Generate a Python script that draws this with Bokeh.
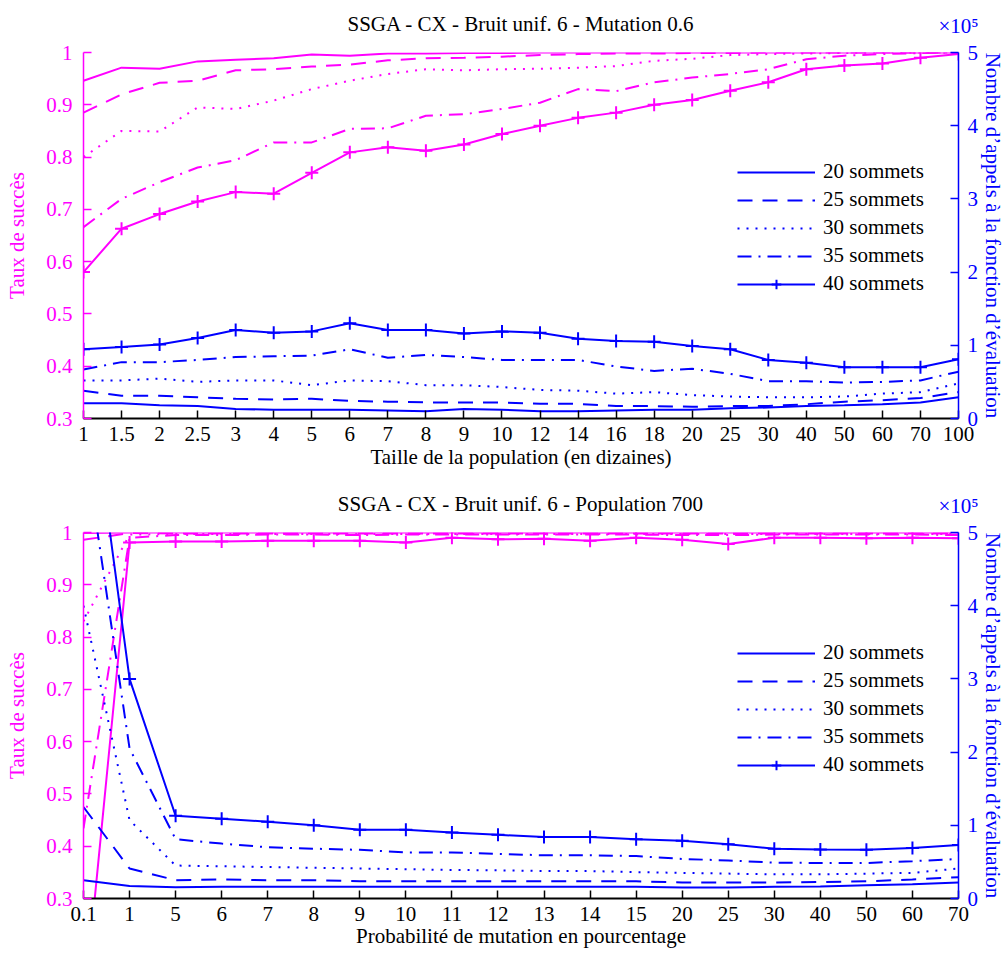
from bokeh.plotting import figure
from bokeh.models import (Range1d, LinearAxis, FixedTicker, Legend, LegendItem,
                          NumeralTickFormatter)
from bokeh.layouts import column
from bokeh.embed import file_html
from bokeh.resources import INLINE

MAG = "#ff00ff"
BLU = "#0000ff"
FONT = "Liberation Serif"

series_names = ["20 sommets", "25 sommets", "30 sommets", "35 sommets", "40 sommets"]
series_dash = ["solid", "15 10", "2 7", "14 7 2 7", "solid"]
calls_multiplier = "×10⁵"

# ---------------- Top panel: population size ----------------
top_title = "SSGA - CX - Bruit unif. 6 - Mutation 0.6"
top_xlabel = "Taille de la population (en dizaines)"
top_x_labels = ["1", "1.5", "2", "2.5", "3", "4", "5", "6", "7", "8", "9", "10",
                "12", "14", "16", "18", "20", "25", "30", "40", "50", "60", "70", "100"]

top_succ_20 = [0.946, 0.971, 0.969, 0.983, 0.986, 0.989, 0.996, 0.994, 0.998, 0.998, 0.999, 0.999,
               1.0, 1.0, 1.0, 1.0, 1.0, 1.0, 1.0, 1.0, 1.0, 1.0, 1.0, 1.0]
top_succ_25 = [0.885, 0.92, 0.942, 0.946, 0.966, 0.968, 0.973, 0.977, 0.985, 0.989, 0.99, 0.992,
               0.995, 0.997, 0.998, 0.998, 0.999, 0.999, 1.0, 1.0, 1.0, 1.0, 1.0, 1.0]
top_succ_30 = [0.80, 0.85, 0.849, 0.895, 0.892, 0.908, 0.93, 0.946, 0.959, 0.968, 0.966, 0.968,
               0.969, 0.971, 0.974, 0.984, 0.988, 0.995, 0.997, 0.998, 0.999, 1.0, 1.0, 1.0]
top_succ_35 = [0.666, 0.72, 0.752, 0.78, 0.794, 0.828, 0.828, 0.854, 0.855, 0.879, 0.882, 0.892,
               0.904, 0.93, 0.926, 0.943, 0.952, 0.959, 0.968, 0.987, 0.994, 0.997, 0.999, 1.0]
top_succ_40 = [0.58, 0.663, 0.691, 0.715, 0.733, 0.73, 0.77, 0.809, 0.819, 0.812, 0.824, 0.844,
               0.86, 0.875, 0.885, 0.90, 0.909, 0.927, 0.943, 0.968, 0.975, 0.979, 0.99, 0.997]

# evaluation calls, in units of 1e5
top_calls_20 = [0.21, 0.21, 0.18, 0.17, 0.13, 0.12, 0.12, 0.12, 0.11, 0.10, 0.13, 0.12,
                0.10, 0.10, 0.11, 0.12, 0.12, 0.14, 0.15, 0.17, 0.18, 0.195, 0.22, 0.29]
top_calls_25 = [0.38, 0.31, 0.31, 0.29, 0.27, 0.26, 0.27, 0.24, 0.23, 0.22, 0.22, 0.22,
                0.20, 0.20, 0.17, 0.17, 0.16, 0.17, 0.17, 0.195, 0.23, 0.25, 0.28, 0.36]
top_calls_30 = [0.52, 0.52, 0.545, 0.50, 0.52, 0.52, 0.455, 0.52, 0.51, 0.455, 0.455, 0.43,
                0.39, 0.38, 0.34, 0.36, 0.32, 0.30, 0.29, 0.29, 0.30, 0.34, 0.36, 0.48]
top_calls_35 = [0.67, 0.77, 0.77, 0.80, 0.84, 0.85, 0.86, 0.945, 0.83, 0.87, 0.84, 0.80,
                0.80, 0.80, 0.71, 0.65, 0.68, 0.61, 0.51, 0.51, 0.49, 0.50, 0.52, 0.64]
top_calls_40 = [0.945, 0.977, 1.01, 1.10, 1.21, 1.17, 1.19, 1.30, 1.21, 1.21, 1.16, 1.19,
                1.17, 1.09, 1.06, 1.05, 0.99, 0.945, 0.80, 0.76, 0.70, 0.70, 0.70, 0.81]

# ---------------- Bottom panel: mutation probability ----------------
bot_title = "SSGA - CX - Bruit unif. 6 - Population 700"
bot_xlabel = "Probabilité de mutation en pourcentage"
bot_x_labels = ["0.1", "1", "5", "6", "7", "8", "9", "10", "11", "12", "13", "14", "15",
                "20", "25", "30", "40", "50", "60", "70"]

bot_succ_20 = [0.999, 1.0, 1.0, 1.0, 1.0, 1.0, 1.0, 1.0, 1.0, 1.0, 1.0, 1.0, 1.0,
               1.0, 1.0, 1.0, 1.0, 1.0, 1.0, 1.0]
bot_succ_25 = [0.986, 0.999, 0.998, 0.998, 0.998, 0.998, 0.998, 0.998, 0.998, 0.998, 0.998, 0.998, 0.998,
               0.998, 0.998, 0.998, 0.998, 0.998, 0.998, 0.998]
bot_succ_30 = [0.83, 0.996, 0.997, 0.997, 0.997, 0.997, 0.997, 0.997, 0.997, 0.997, 0.997, 0.997, 0.997,
               0.997, 0.997, 0.997, 0.997, 0.997, 0.997, 0.997]
bot_succ_35 = [0.434, 0.99, 0.995, 0.995, 0.996, 0.996, 0.995, 0.996, 0.996, 0.996, 0.996, 0.996, 0.996,
               0.995, 0.995, 0.996, 0.996, 0.996, 0.996, 0.995]
bot_succ_40 = [0.08, 0.981, 0.983, 0.983, 0.984, 0.984, 0.984, 0.981, 0.99, 0.987, 0.988, 0.984, 0.99,
               0.986, 0.978, 0.99, 0.99, 0.989, 0.99, 0.989]

bot_calls_20 = [0.25, 0.17, 0.155, 0.16, 0.16, 0.16, 0.16, 0.16, 0.16, 0.16, 0.16, 0.16, 0.16,
                0.15, 0.15, 0.16, 0.165, 0.18, 0.195, 0.22]
bot_calls_25 = [1.25, 0.41, 0.25, 0.26, 0.25, 0.25, 0.235, 0.235, 0.235, 0.235, 0.235, 0.235, 0.235,
                0.22, 0.22, 0.22, 0.225, 0.235, 0.26, 0.29]
bot_calls_30 = [4.0, 1.07, 0.45, 0.44, 0.43, 0.42, 0.41, 0.40, 0.39, 0.385, 0.375, 0.375, 0.36,
                0.35, 0.34, 0.33, 0.33, 0.34, 0.35, 0.41]
bot_calls_35 = [6.3, 2.05, 0.81, 0.75, 0.70, 0.68, 0.665, 0.63, 0.63, 0.61, 0.59, 0.59, 0.58,
                0.54, 0.52, 0.49, 0.485, 0.485, 0.51, 0.54]
bot_calls_40 = [7.7, 3.0, 1.13, 1.09, 1.05, 1.0, 0.94, 0.94, 0.90, 0.87, 0.84, 0.84, 0.81,
                0.79, 0.74, 0.68, 0.67, 0.665, 0.69, 0.73]

succ_ticks = [0.3, 0.4, 0.5, 0.6, 0.7, 0.8, 0.9, 1.0]
calls_ticks = [0, 1, 2, 3, 4, 5]

FS = "21px"


def style_text_axis(ax, color):
    ax.major_label_text_font = FONT
    ax.major_label_text_font_size = FS
    ax.major_label_text_color = color
    ax.axis_label_text_font = FONT
    ax.axis_label_text_font_size = FS
    ax.axis_label_text_font_style = "normal"
    ax.axis_label_text_color = color


def make_panel(title, xlabels, succ, calls, xlabel, height, btop, bbottom, xl_standoff, legend_loc):
    n = len(xlabels)
    xs = list(range(n))
    p = figure(width=1008, height=height, output_backend="svg", toolbar_location=None,
               x_range=Range1d(0, n - 1), y_range=Range1d(0.3, 1.0),
               min_border_left=83, min_border_right=45,
               min_border_top=btop, min_border_bottom=bbottom)
    p.outline_line_color = None
    p.xgrid.visible = False
    p.ygrid.visible = False
    p.background_fill_color = "white"
    p.border_fill_color = "white"
    p.extra_y_ranges = {"right": Range1d(0, 5)}

    # bottom axis
    xa = p.xaxis[0]
    xa.ticker = FixedTicker(ticks=xs)
    xa.major_label_overrides = {i: lab for i, lab in enumerate(xlabels)}
    xa.axis_line_color = "black"
    xa.axis_line_width = 2
    xa.major_tick_line_color = "black"
    xa.major_tick_line_width = 1.5
    xa.major_tick_in = 8
    xa.major_tick_out = 0
    xa.minor_tick_line_color = None
    style_text_axis(xa, "black")
    xa.major_label_standoff = 8
    xa.axis_label = xlabel
    xa.axis_label_standoff = xl_standoff

    # top: title (as axis label) and the x10^5 multiplier above the right axis
    ta = LinearAxis(ticker=FixedTicker(ticks=[n - 1]))
    ta.major_label_overrides = {n - 1: calls_multiplier}
    ta.axis_line_color = None
    ta.major_tick_line_color = None
    ta.minor_tick_line_color = None
    ta.major_tick_in = 0
    ta.major_tick_out = 0
    style_text_axis(ta, "black")
    ta.major_label_text_color = BLU
    ta.major_label_standoff = 15
    ta.axis_label = title
    ta.axis_label_standoff = -25
    p.add_layout(ta, "above")

    # left axis (success rate)
    ya = p.yaxis[0]
    ya.ticker = FixedTicker(ticks=succ_ticks)
    ya.formatter = NumeralTickFormatter(format="0.[0]")
    ya.axis_line_color = MAG
    ya.axis_line_width = 1.5
    ya.major_tick_line_color = MAG
    ya.major_tick_line_width = 1.5
    ya.major_tick_in = 8
    ya.major_tick_out = 0
    ya.minor_tick_line_color = None
    style_text_axis(ya, MAG)
    ya.major_label_standoff = 11
    ya.axis_label = "Taux de succès"
    ya.axis_label_standoff = 14

    # right axis (evaluation calls)
    ra = LinearAxis(y_range_name="right", ticker=FixedTicker(ticks=calls_ticks))
    ra.axis_line_color = BLU
    ra.axis_line_width = 1.5
    ra.major_tick_line_color = BLU
    ra.major_tick_line_width = 1.5
    ra.major_tick_in = 8
    ra.major_tick_out = 0
    ra.minor_tick_line_color = None
    style_text_axis(ra, BLU)
    ra.major_label_standoff = 9
    ra.axis_label = "Nombre d’appels à la fonction d’évaluation"
    ra.axis_label_standoff = 0
    p.add_layout(ra, "right")

    # success-rate curves (magenta, left axis)
    for i, ys in enumerate(succ):
        p.line(xs, ys, line_color=MAG, line_width=2, line_dash=series_dash[i])
        if i == 4:
            p.scatter(xs, ys, marker="cross", size=13, line_color=MAG, line_width=2)

    # evaluation-call curves (blue, right axis)
    items = []
    for i, ys in enumerate(calls):
        r = p.line(xs, ys, line_color=BLU, line_width=2, line_dash=series_dash[i],
                   y_range_name="right")
        rs = [r]
        if i == 4:
            m = p.scatter(xs, ys, marker="cross", size=13, line_color=BLU, line_width=2,
                          y_range_name="right")
            rs.append(m)
        items.append(LegendItem(label=series_names[i], renderers=rs))

    leg = Legend(items=items, location=legend_loc)
    leg.label_text_font = FONT
    leg.label_text_font_size = FS
    leg.label_text_color = "black"
    leg.glyph_width = 78
    leg.glyph_height = 24
    leg.label_height = 24
    leg.spacing = 3
    leg.padding = 10
    leg.margin = 0
    leg.label_standoff = 8
    leg.border_line_alpha = 0
    leg.background_fill_alpha = 0
    p.add_layout(leg)
    return p


p1 = make_panel(top_title, top_x_labels,
                [top_succ_20, top_succ_25, top_succ_30, top_succ_35, top_succ_40],
                [top_calls_20, top_calls_25, top_calls_30, top_calls_35, top_calls_40],
                top_xlabel, 474, 52, 56, 1, (644, 112))
p2 = make_panel(bot_title, bot_x_labels,
                [bot_succ_20, bot_succ_25, bot_succ_30, bot_succ_35, bot_succ_40],
                [bot_calls_20, bot_calls_25, bot_calls_30, bot_calls_35, bot_calls_40],
                bot_xlabel, 479, 58, 55, 0, (644, 111))

layout = column(p1, p2, spacing=0)
open("out.html", "w").write(file_html(layout, INLINE))
